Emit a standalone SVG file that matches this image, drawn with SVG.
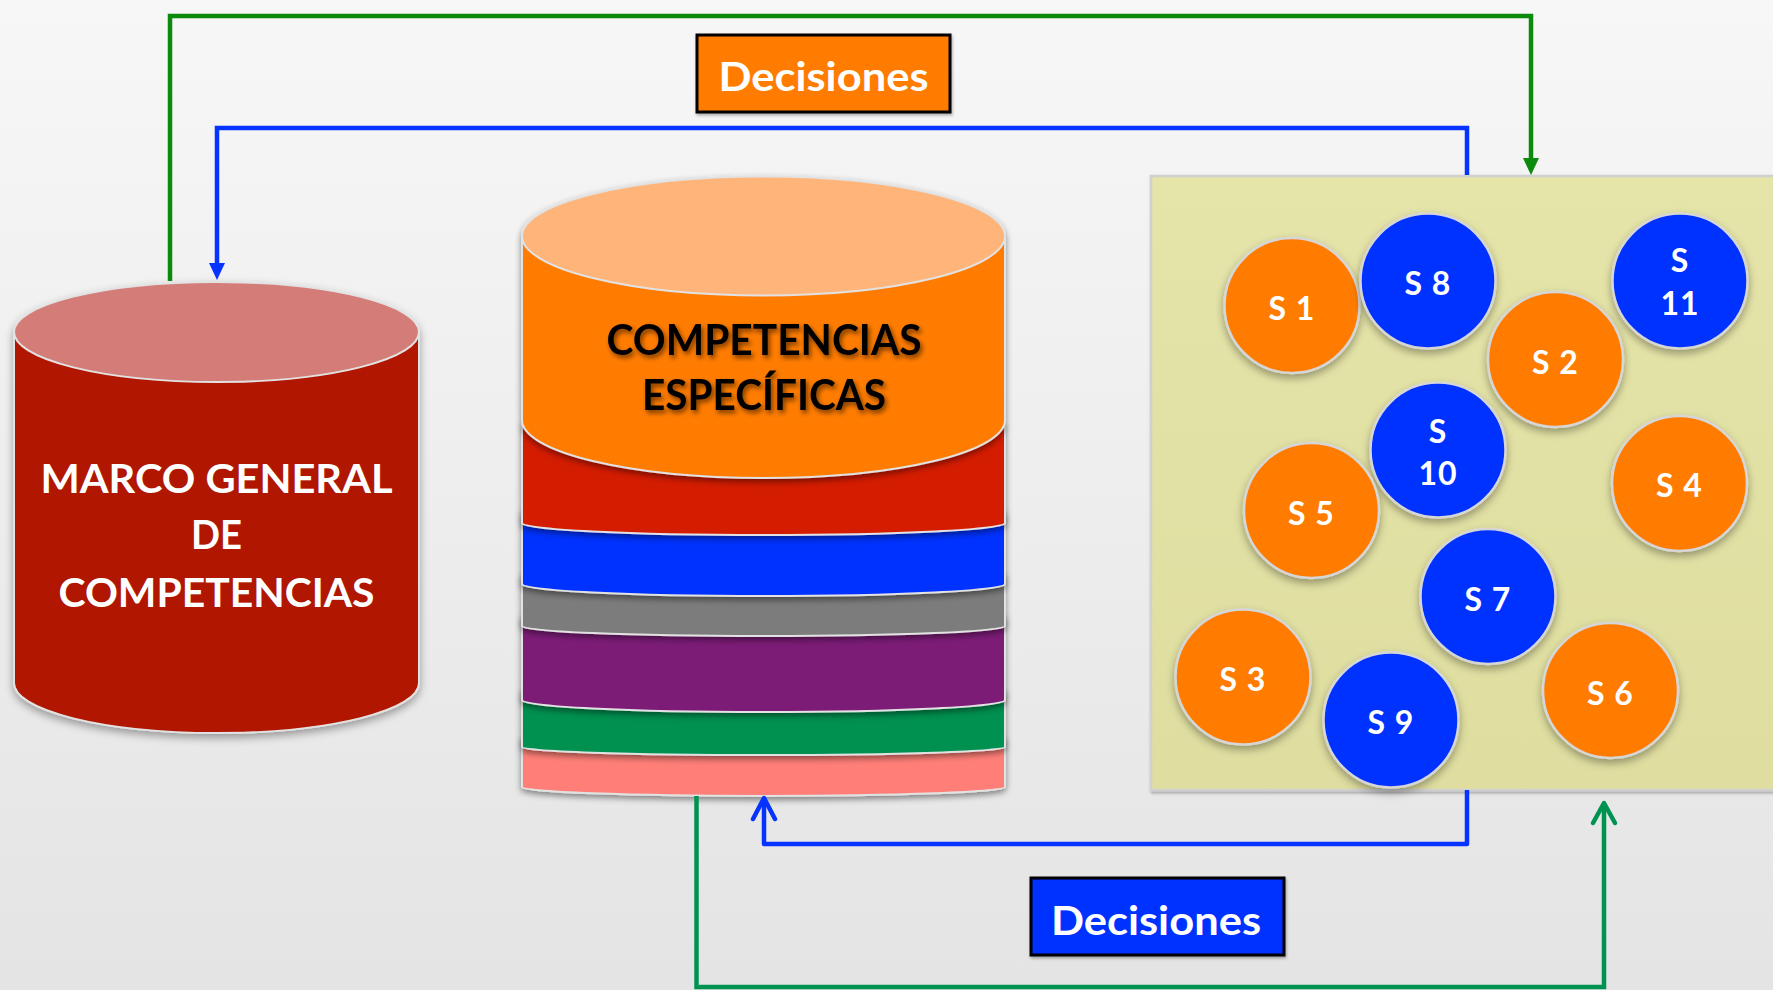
<svg xmlns="http://www.w3.org/2000/svg" width="1773" height="990" viewBox="0 0 1773 990">
<defs>
<linearGradient id="bg" x1="0" y1="0" x2="0" y2="1">
<stop offset="0" stop-color="#F7F7F7"/>
<stop offset="1" stop-color="#E4E4E4"/>
</linearGradient>
<linearGradient id="yel" x1="0" y1="0" x2="0" y2="1">
<stop offset="0" stop-color="#E5E4A9"/>
<stop offset="1" stop-color="#DFDEA0"/>
</linearGradient>
<filter id="sh" x="-20%" y="-20%" width="140%" height="150%">
<feDropShadow dx="0" dy="4" stdDeviation="4" flood-color="#000" flood-opacity="0.35"/>
</filter>
<filter id="shl" x="-10%" y="-30%" width="120%" height="180%">
<feDropShadow dx="0" dy="3" stdDeviation="3" flood-color="#000" flood-opacity="0.45"/>
</filter>
<filter id="tsh" x="-10%" y="-30%" width="120%" height="170%">
<feDropShadow dx="2" dy="3" stdDeviation="2.5" flood-color="#000" flood-opacity="0.55"/>
</filter>
<filter id="lsh" x="-5%" y="-50%" width="110%" height="200%">
<feDropShadow dx="1" dy="2" stdDeviation="1.5" flood-color="#000" flood-opacity="0.3"/>
</filter>
</defs>
<style>
.lbl{font-family:Lato,"Open Sans","Liberation Sans",sans-serif;font-weight:700;text-anchor:middle}
.w{fill:#FFFFFF}
.circ{stroke:#D6D6D6;stroke-width:2.5}
.or{fill:#FF7B00}
.bl{fill:#0433FF}
.sl{font-size:32px;letter-spacing:1px}
.edge{stroke:#E2E2E2;stroke-width:2}
.cg{fill:none;stroke:#0B8A0B;stroke-width:4.5}
.cb{fill:none;stroke:#0533FF;stroke-width:4.5}
.cg2{fill:none;stroke:#009250;stroke-width:4.5}
</style>
<rect x="0" y="0" width="1773" height="990" fill="url(#bg)"/>

<g id="students-area">
<rect x="1151" y="176" width="640" height="614" fill="url(#yel)" stroke="#D0D0D0" stroke-width="2.5" filter="url(#lsh)"/>
</g>

<g id="marco-general">
<g filter="url(#sh)">
<path d="M14,332 V683 A202.5 50 0 0 0 419,683 V332 Z" fill="#B01800" class="edge"/>
<ellipse cx="216.5" cy="332" rx="202.5" ry="50" fill="#D47B78" class="edge"/>
</g>
<text class="lbl w" x="216.5" y="493" font-size="41" textLength="352" lengthAdjust="spacingAndGlyphs">MARCO GENERAL</text>
<text class="lbl w" x="216.5" y="549" font-size="41" textLength="51" lengthAdjust="spacingAndGlyphs">DE</text>
<text class="lbl w" x="216.5" y="607" font-size="41" textLength="316" lengthAdjust="spacingAndGlyphs">COMPETENCIAS</text>
</g>

<g id="competencias-especificas">
<path d="M522,737 V787 A241.5 9 0 0 0 1005,787 V737 Z" fill="#FF7F78" class="edge" filter="url(#shl)"/>
<path d="M522,690 V747 A241.5 8 0 0 0 1005,747 V690 Z" fill="#009050" class="edge" filter="url(#shl)"/>
<path d="M522,616 V700 A241.5 12 0 0 0 1005,700 V616 Z" fill="#7B1A77" class="edge" filter="url(#shl)"/>
<path d="M522,574 V626 A241.5 10 0 0 0 1005,626 V574 Z" fill="#7B7B7B" class="edge" filter="url(#shl)"/>
<path d="M522,511 V584 A241.5 12 0 0 0 1005,584 V511 Z" fill="#0433FF" class="edge" filter="url(#shl)"/>
<path d="M522,424 V523 A241.5 12 0 0 0 1005,523 V424 Z" fill="#D41E00" class="edge" filter="url(#shl)"/>
<g filter="url(#shl)">
<path d="M522,236 V420 A241.5 58 0 0 0 1005,420 V236 Z" fill="#FF7B00" class="edge"/>
<ellipse cx="763.5" cy="236" rx="241.5" ry="59.5" fill="#FFB479" class="edge"/>
</g>
<g filter="url(#tsh)">
<text class="lbl" x="764" y="355" font-size="42" fill="#000" textLength="315" lengthAdjust="spacingAndGlyphs">COMPETENCIAS</text>
<text class="lbl" x="764" y="410" font-size="42" fill="#000" textLength="244" lengthAdjust="spacingAndGlyphs">ESPECÍFICAS</text>
</g>
</g>

<g id="connectors">
<path class="cg" d="M170,281 V16 H1531 V160"/>
<polygon points="1523,158 1539,158 1531,175" fill="#0B8A0B"/>
<path class="cb" d="M1467,175 V128 H217 V265"/>
<polygon points="209,263 225,263 217,280" fill="#0533FF"/>
<path class="cb" d="M1467,790 V844 H764 V799" stroke-linejoin="round"/>
<path class="cb" d="M753,819 L764,798 L775,819" stroke-linecap="round" stroke-linejoin="round"/>
<path class="cg2" d="M696.5,796 V987 H1604 V804"/>
<path class="cg2" d="M1593,823 L1604,803 L1615,823" stroke-linecap="round" stroke-linejoin="round"/>
</g>

<g id="decisiones-top">
<rect x="697" y="35" width="253" height="77" fill="#FF7B00" stroke="#000" stroke-width="3" filter="url(#lsh)"/>
<text class="lbl w" x="823.5" y="91" font-size="40" textLength="210" lengthAdjust="spacingAndGlyphs">Decisiones</text>
</g>

<g id="decisiones-bottom">
<rect x="1031" y="878" width="253" height="77" fill="#0433FF" stroke="#000" stroke-width="3" filter="url(#lsh)"/>
<text class="lbl w" x="1156" y="935" font-size="40" textLength="210" lengthAdjust="spacingAndGlyphs">Decisiones</text>
</g>

<g id="s1"><circle cx="1292" cy="305.5" r="67.5" class="circ or" filter="url(#sh)"/><text class="lbl w sl" x="1292" y="320">S 1</text></g>
<g id="s8"><circle cx="1428" cy="281" r="67.5" class="circ bl" filter="url(#sh)"/><text class="lbl w sl" x="1428" y="295">S 8</text></g>
<g id="s2"><circle cx="1555.5" cy="359.5" r="67.5" class="circ or" filter="url(#sh)"/><text class="lbl w sl" x="1555.5" y="374">S 2</text></g>
<g id="s11"><circle cx="1680" cy="281" r="67.5" class="circ bl" filter="url(#sh)"/><text class="lbl w sl" x="1680" y="272">S</text><text class="lbl w sl" x="1680" y="315">11</text></g>
<g id="s10"><circle cx="1438" cy="450" r="67.5" class="circ bl" filter="url(#sh)"/><text class="lbl w sl" x="1438" y="443">S</text><text class="lbl w sl" x="1438" y="485">10</text></g>
<g id="s4"><circle cx="1679.5" cy="483.5" r="67.5" class="circ or" filter="url(#sh)"/><text class="lbl w sl" x="1679.5" y="497">S 4</text></g>
<g id="s5"><circle cx="1311.5" cy="510.5" r="67.5" class="circ or" filter="url(#sh)"/><text class="lbl w sl" x="1311.5" y="525">S 5</text></g>
<g id="s7"><circle cx="1488" cy="596.5" r="67.5" class="circ bl" filter="url(#sh)"/><text class="lbl w sl" x="1488" y="611">S 7</text></g>
<g id="s3"><circle cx="1243" cy="677" r="67.5" class="circ or" filter="url(#sh)"/><text class="lbl w sl" x="1243" y="691">S 3</text></g>
<g id="s9"><circle cx="1391" cy="720" r="67.5" class="circ bl" filter="url(#sh)"/><text class="lbl w sl" x="1391" y="734">S 9</text></g>
<g id="s6"><circle cx="1610.5" cy="690.5" r="67.5" class="circ or" filter="url(#sh)"/><text class="lbl w sl" x="1610.5" y="705">S 6</text></g>
</svg>
